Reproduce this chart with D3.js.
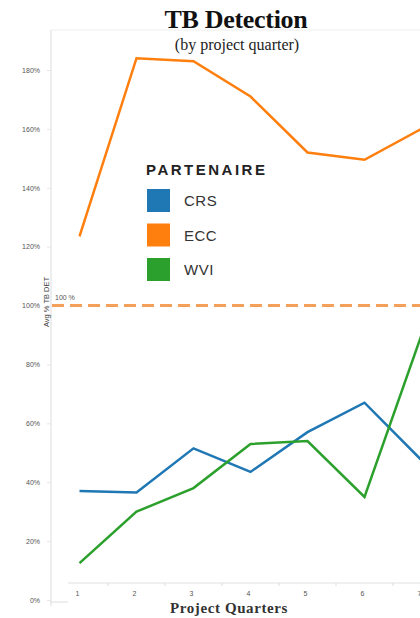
<!DOCTYPE html>
<html>
<head>
<meta charset="utf-8">
<script src="https://cdn.jsdelivr.net/npm/d3@7"></script>
<style>
  body { margin: 0; background: #fff; }
  svg { display: block; }
</style>
</head>
<body>
<div class="js-chart"></div>
<script>
var quarters = [1, 2, 3, 4, 5, 6, 7];
var crs = [37, 36.5, 51.5, 43.5, 57, 67, 47.5];
var ecc = [123.5, 184, 183, 171, 152, 149.5, 160];
var wvi = [12.5, 30, 38, 53, 54, 35, 90];
var yTicks = [0, 20, 40, 60, 80, 100, 120, 140, 160, 180];
var partners = ['CRS', 'ECC', 'WVI'];
var colors = ['#1f77b4', '#ff7f0e', '#2ca02c'];
var target = 100;

var width = 420, height = 618;

var svg = d3.select('.js-chart')
    .append('svg')
    .attr('width', width)
    .attr('height', height);

var x = d3.scaleBand()
    .domain(quarters)
    .range([51, 51 + 57 * quarters.length]);

var y = d3.scaleLinear()
    .domain([0, 180])
    .range([600, 70]);

var color = d3.scaleOrdinal()
    .domain(partners)
    .range(colors);

// frame
svg.append('line')
    .attr('x1', 51).attr('x2', width)
    .attr('y1', 30).attr('y2', 30)
    .attr('stroke', '#eee');
svg.append('line')
    .attr('x1', 51).attr('x2', 51)
    .attr('y1', 30).attr('y2', 606)
    .attr('stroke', '#ddd');
svg.append('line')
    .attr('x1', 50).attr('x2', 68)
    .attr('y1', 602).attr('y2', 602)
    .attr('stroke', '#ddd');

// y axis
var yAxis = svg.append('g')
    .attr('transform', 'translate(51,0)')
    .call(d3.axisLeft(y).tickValues(yTicks).tickSize(4).tickPadding(7)
        .tickFormat(function(d) { return d + '%'; }));
yAxis.select('.domain').remove();
yAxis.selectAll('line').attr('stroke', '#e6e6e6');
yAxis.selectAll('text')
    .attr('fill', '#555')
    .style('font-family', 'Liberation Sans, Arial, sans-serif')
    .style('font-size', '7px');

svg.append('text')
    .attr('transform', 'translate(49,302) rotate(-90)')
    .attr('text-anchor', 'middle')
    .attr('fill', '#444')
    .style('font-family', 'Liberation Sans, Arial, sans-serif')
    .style('font-size', '7.5px')
    .text('Avg % TB DET');

// x axis
var xAxis = svg.append('g')
    .attr('transform', 'translate(0,583)')
    .call(d3.axisBottom(x).tickSize(0).tickPadding(8));
xAxis.select('.domain')
    .attr('d', 'M68,0H' + width)
    .attr('stroke', '#e0e0e0');
xAxis.selectAll('text')
    .attr('fill', '#555')
    .style('font-family', 'Liberation Sans, Arial, sans-serif')
    .style('font-size', '7px')
    .attr('dx', '-2px');
xAxis.selectAll('.sep')
    .data(quarters.slice(1))
    .enter()
    .append('line')
    .attr('class', 'sep')
    .attr('x1', function(d) { return x(d); })
    .attr('x2', function(d) { return x(d); })
    .attr('y1', 0).attr('y2', 3)
    .attr('stroke', '#ddd');

svg.append('text')
    .attr('x', 229).attr('y', 613)
    .attr('text-anchor', 'middle')
    .attr('fill', '#333')
    .style('font-family', 'Liberation Serif, Times New Roman, serif')
    .style('font-weight', 'bold')
    .style('font-size', '15px')
    .style('letter-spacing', '0.6px')
    .text('Project Quarters');

// target line
svg.append('line')
    .attr('x1', 52).attr('x2', width)
    .attr('y1', y(target)).attr('y2', y(target))
    .attr('stroke', '#f5a05a')
    .attr('stroke-width', 3)
    .attr('stroke-dasharray', '12,6');
svg.append('text')
    .attr('x', 55).attr('y', y(target) - 6)
    .attr('fill', '#555')
    .style('font-family', 'Liberation Sans, Arial, sans-serif')
    .style('font-size', '7px')
    .text(target + ' %');

// series
var series = [crs, ecc, wvi];
var line = d3.line()
    .x(function(d, i) { return x(quarters[i]) + x.bandwidth() / 2; })
    .y(function(d) { return y(d); });

svg.selectAll('.series')
    .data(series)
    .enter()
    .append('path')
    .attr('class', 'series')
    .attr('d', line)
    .attr('fill', 'none')
    .attr('stroke', function(d, i) { return color(partners[i]); })
    .attr('stroke-width', 2.5)
    .attr('stroke-linejoin', 'miter');

// title
svg.append('text')
    .attr('x', 236).attr('y', 28)
    .attr('text-anchor', 'middle')
    .attr('fill', '#111')
    .style('font-family', 'Liberation Serif, Times New Roman, serif')
    .style('font-weight', 'bold')
    .style('font-size', '26px')
    .style('letter-spacing', '-0.3px')
    .text('TB Detection');
svg.append('text')
    .attr('x', 237).attr('y', 50)
    .attr('text-anchor', 'middle')
    .attr('fill', '#222')
    .style('font-family', 'Liberation Serif, Times New Roman, serif')
    .style('font-size', '16px')
    .text('(by project quarter)');

// legend
var legend = svg.append('g')
    .attr('transform', 'translate(147,0)');
legend.append('text')
    .attr('x', -1).attr('y', 175)
    .attr('fill', '#222')
    .style('font-family', 'Liberation Sans, Arial, sans-serif')
    .style('font-weight', 'bold')
    .style('font-size', '15px')
    .style('letter-spacing', '2.5px')
    .text('PARTENAIRE');

var item = legend.selectAll('.item')
    .data(partners)
    .enter()
    .append('g')
    .attr('class', 'item')
    .attr('transform', function(d, i) { return 'translate(0,' + (189 + i * 34.5) + ')'; });
item.append('rect')
    .attr('width', 23).attr('height', 23)
    .attr('fill', function(d) { return color(d); });
item.append('text')
    .attr('x', 37).attr('y', 17)
    .attr('fill', '#333')
    .style('font-family', 'Liberation Sans, Arial, sans-serif')
    .style('font-size', '15px')
    .style('letter-spacing', '0.5px')
    .text(function(d) { return d; });
</script>
</body>
</html>
